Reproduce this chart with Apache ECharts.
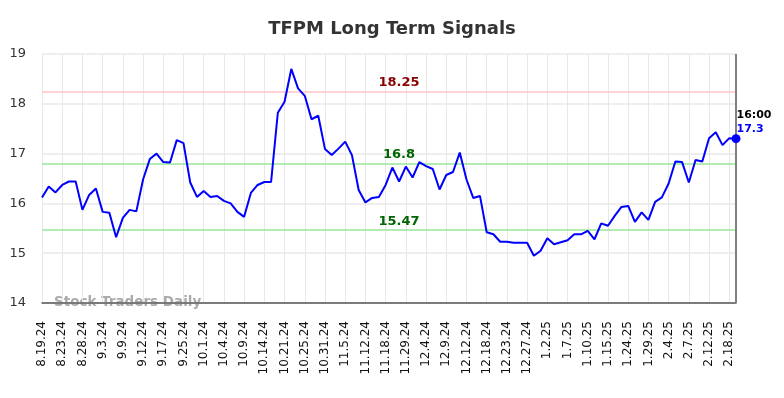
<!DOCTYPE html>
<html>
<head>
<meta charset="utf-8">
<script src="https://cdn.jsdelivr.net/npm/echarts@6/dist/echarts.min.js"></script>
<style>
  html, body { margin: 0; padding: 0; background: #fff; }
  #chart { width: 784px; height: 398px; }
</style>
</head>
<body>
<div id="chart"></div>
<script>
// tick labels, one every 3 points
const tickLabels = ['8.19.24', '8.23.24', '8.28.24', '9.3.24', '9.9.24', '9.12.24', '9.17.24', '9.25.24',
  '10.1.24', '10.4.24', '10.9.24', '10.14.24', '10.21.24', '10.25.24', '10.31.24', '11.5.24', '11.12.24',
  '11.18.24', '11.29.24', '12.4.24', '12.9.24', '12.12.24', '12.18.24', '12.23.24', '12.27.24', '1.2.25',
  '1.7.25', '1.10.25', '1.15.25', '1.24.25', '1.29.25', '2.4.25', '2.7.25', '2.12.25', '2.18.25']

const prices = [
  16.12, 16.34, 16.22, 16.37, 16.44, 16.44, 15.87, 16.17, 16.30, 15.83,
  15.81, 15.32, 15.71, 15.87, 15.84, 16.48, 16.89, 17.00, 16.83, 16.82,
  17.27, 17.21, 16.42, 16.13, 16.25, 16.13, 16.15, 16.05, 16.00, 15.83,
  15.73, 16.21, 16.37, 16.43, 16.43, 17.82, 18.04, 18.70, 18.31, 18.16,
  17.69, 17.76, 17.09, 16.97, 17.10, 17.24, 16.97, 16.27, 16.02, 16.11,
  16.13, 16.37, 16.72, 16.44, 16.74, 16.52, 16.83, 16.75, 16.69, 16.28,
  16.57, 16.63, 17.02, 16.48, 16.11, 16.15, 15.42, 15.38, 15.23, 15.23,
  15.21, 15.21, 15.21, 14.95, 15.05, 15.30, 15.18, 15.22, 15.26, 15.38,
  15.38, 15.45, 15.28, 15.60, 15.55, 15.75, 15.93, 15.95, 15.63, 15.82,
  15.67, 16.03, 16.12, 16.40, 16.84, 16.83, 16.42, 16.87, 16.84, 17.31,
  17.43, 17.17, 17.31, 17.30
]

const upperSignal = 18.25
const midSignal = 16.8
const lowerSignal = 15.47
const lastTime = '16:00'

const categories = prices.map((p, i) => (i % 3 === 0 && tickLabels[i / 3]) ? tickLabels[i / 3] : '')
const lastIndex = prices.length - 1
const lastPrice = prices[lastIndex]

const chart = echarts.init(document.getElementById('chart'))

const levelLabel = (color) => ({
  show: true,
  position: 'middle',
  offset: [10, 0],
  distance: 2,
  color: color,
  fontWeight: 'bold',
  fontSize: 13,
  fontFamily: 'DejaVu Sans',
  formatter: '{c}'
})

chart.setOption({
  animation: false,
  title: {
    text: 'TFPM Long Term Signals',
    left: 'center',
    top: 15,
    textStyle: { fontSize: 18, fontWeight: 'bold', color: '#333', fontFamily: 'DejaVu Sans' }
  },
  grid: { left: 42, right: 48, top: 54, bottom: 95 },
  xAxis: {
    type: 'category',
    data: categories,
    boundaryGap: false,
    axisLine: { lineStyle: { color: '#555', width: 1.5 } },
    axisTick: { show: false },
    axisLabel: {
      interval: 2,
      rotate: 90,
      margin: 18,
      fontSize: 12,
      color: '#111',
      fontFamily: 'DejaVu Sans'
    },
    splitLine: { show: true, interval: 2, lineStyle: { color: '#e8e8e8', width: 1 } }
  },
  yAxis: {
    type: 'value',
    min: 14,
    max: 19,
    interval: 1,
    axisLine: { show: false },
    axisTick: { show: false },
    axisLabel: { fontSize: 13, color: '#333', margin: 16, fontFamily: 'DejaVu Sans' },
    splitLine: { lineStyle: { color: '#e8e8e8', width: 1.5 } }
  },
  graphic: [{
    type: 'text',
    left: 54,
    top: 295,
    z: -1,
    style: { text: 'Stock Traders Daily', fontSize: 13.5, fontWeight: 'bold', fill: '#ababab', fontFamily: 'DejaVu Sans' }
  }],
  series: [{
    type: 'line',
    data: prices,
    showSymbol: false,
    lineStyle: { color: '#0000ff', width: 2 },
    itemStyle: { color: '#0000ff' },
    z: 5,
    markPoint: {
      silent: true,
      symbol: 'circle',
      symbolSize: 9,
      itemStyle: { color: '#0000ff' },
      data: [{
        coord: [lastIndex, lastPrice],
        label: {
          show: true,
          position: [5, -26],
          align: 'left',
          verticalAlign: 'top',
          formatter: '{t|' + lastTime + '}\n{v|' + lastPrice.toFixed(1) + '}',
          rich: {
            t: { color: '#000', fontWeight: 'bold', fontSize: 11, lineHeight: 14, fontFamily: 'DejaVu Sans' },
            v: { color: '#0000ff', fontWeight: 'bold', fontSize: 11, lineHeight: 14, fontFamily: 'DejaVu Sans' }
          }
        }
      }]
    },
    markLine: {
      silent: true,
      symbol: 'none',
      data: [
        { yAxis: upperSignal, lineStyle: { color: '#ffc4c4', width: 1.5, type: 'solid' }, label: levelLabel('#8b0000') },
        { yAxis: midSignal, lineStyle: { color: '#98e698', width: 1.5, type: 'solid' }, label: levelLabel('#006400') },
        { yAxis: lowerSignal, lineStyle: { color: '#98e698', width: 1.5, type: 'solid' }, label: levelLabel('#006400') },
        { xAxis: lastIndex, lineStyle: { color: '#808080', width: 2, type: 'solid' }, label: { show: false } }
      ]
    }
  }]
})
</script>
</body>
</html>
